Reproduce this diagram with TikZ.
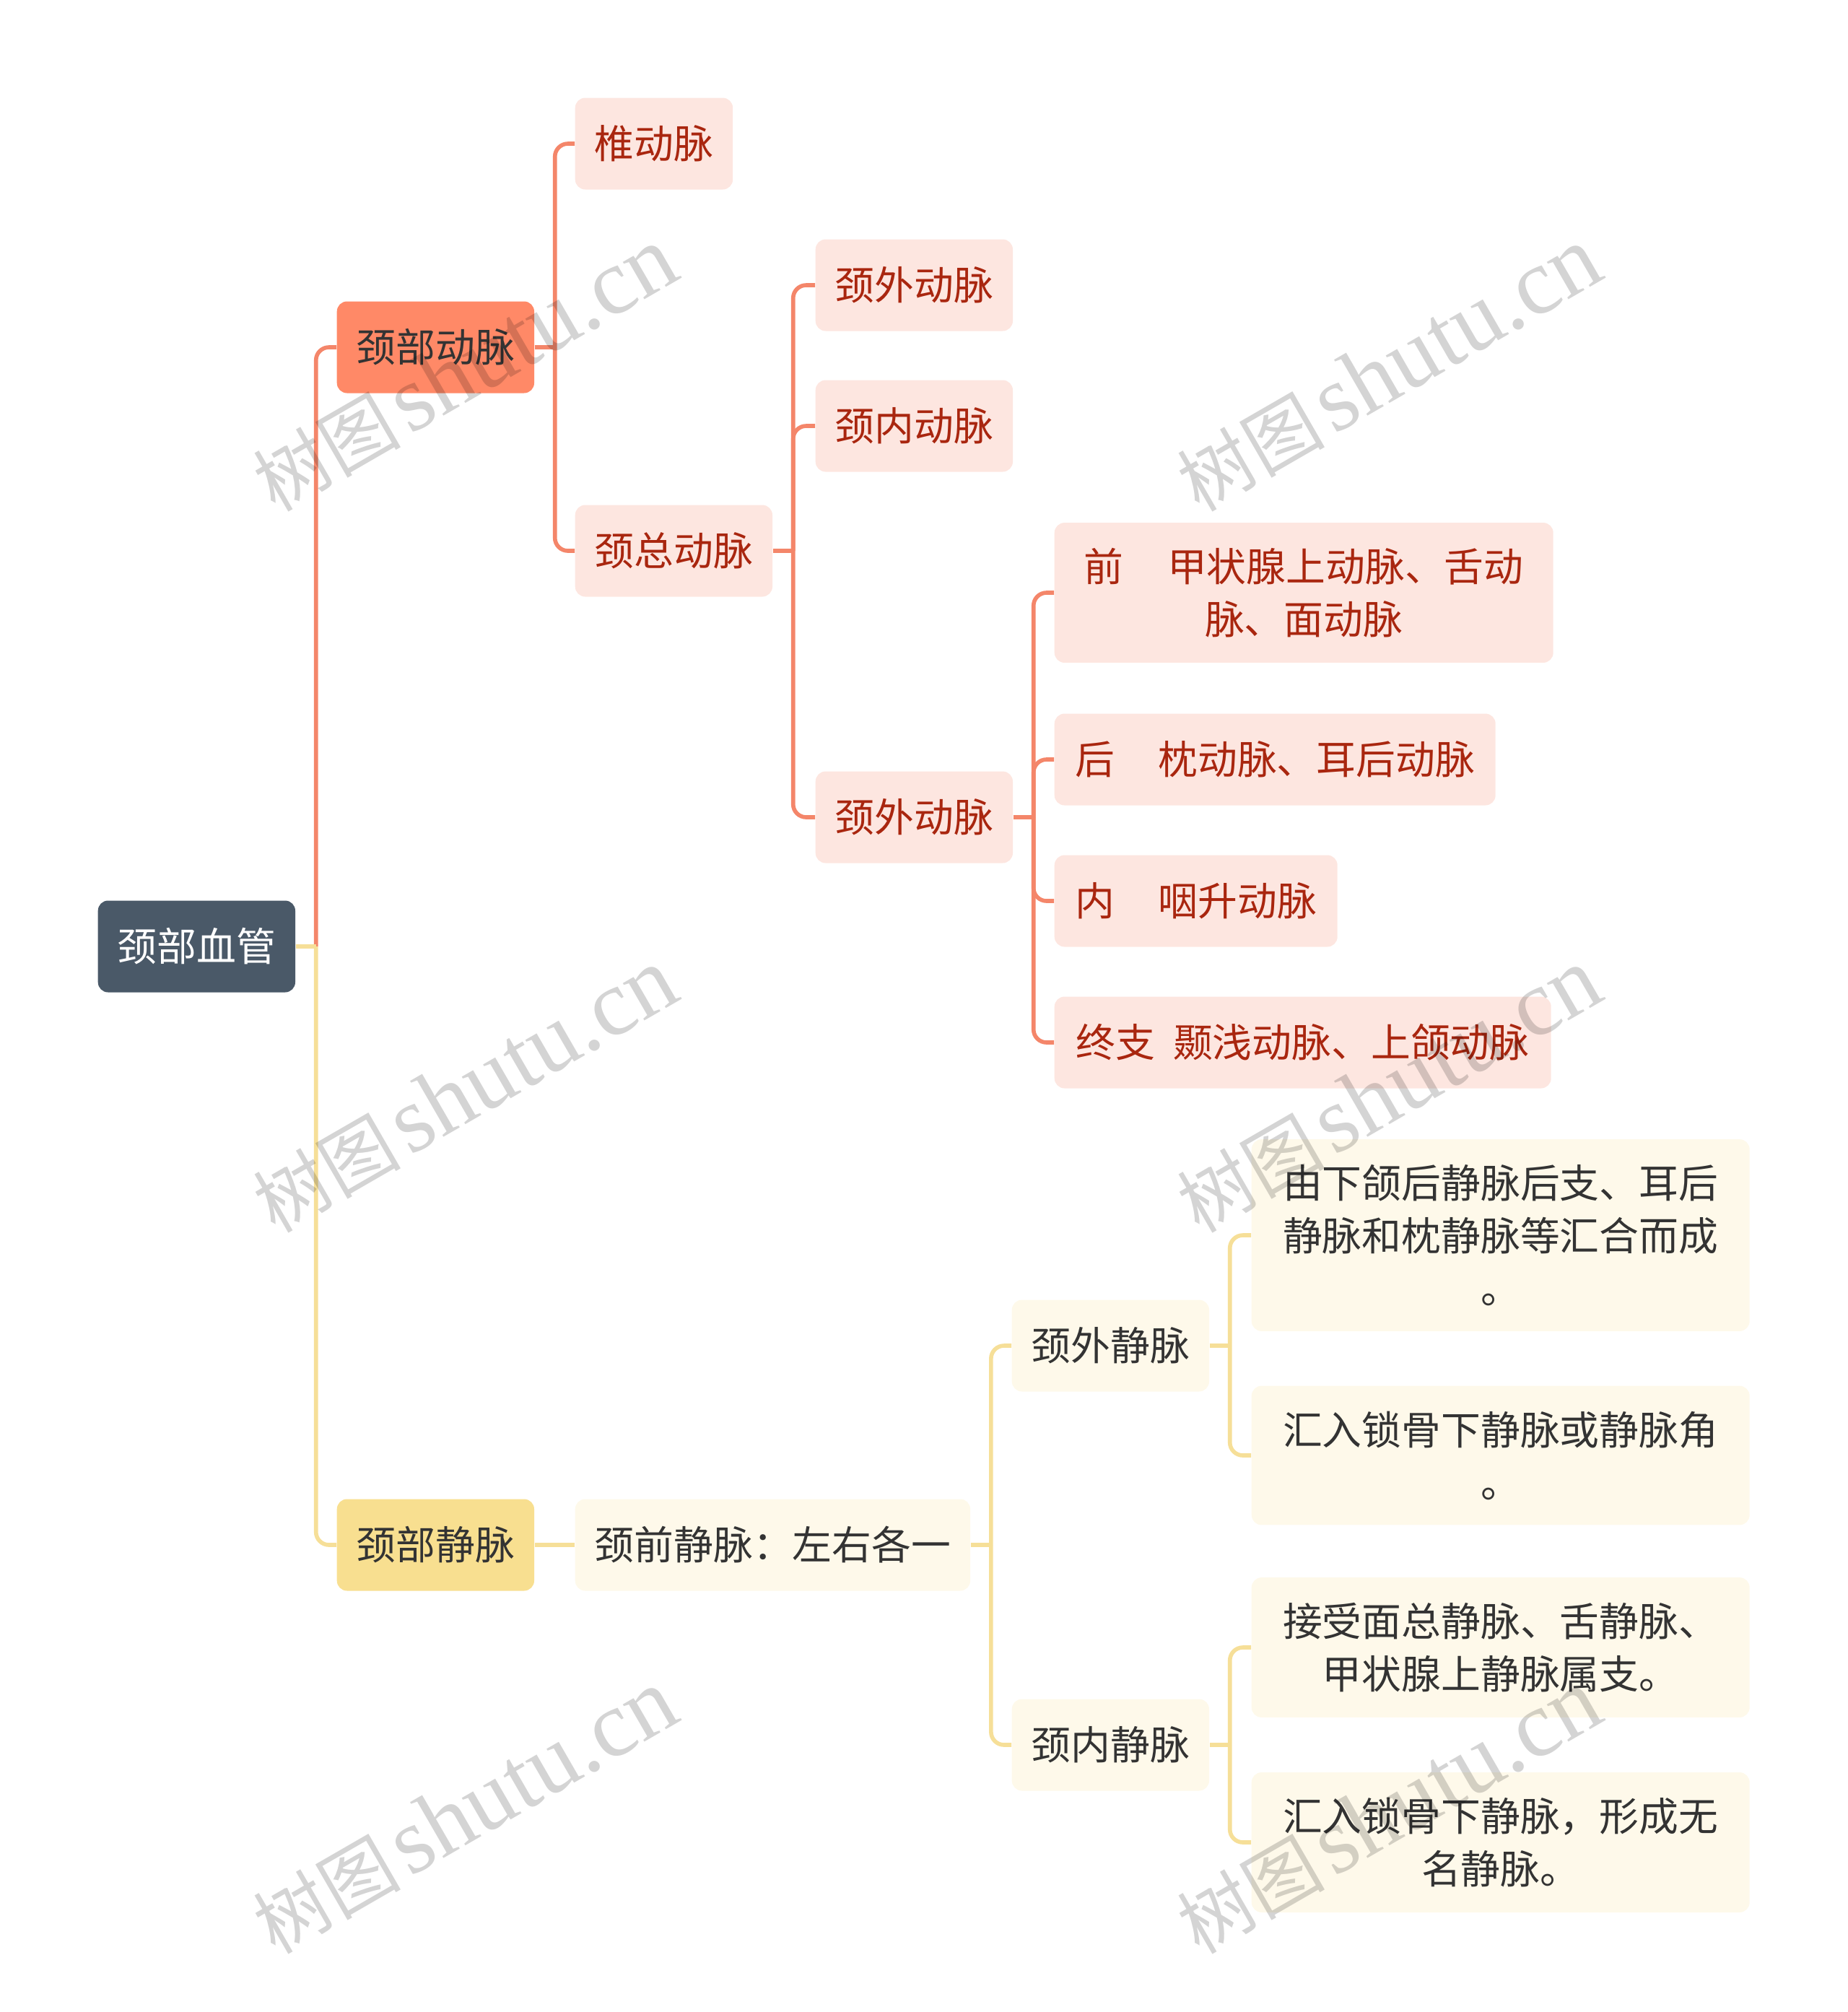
\documentclass[tikz,border=0pt]{standalone}
\usepackage{fontspec}
\newfontfamily\cjk{Noto Sans CJK SC}
\newfontfamily\wmlatin{Liberation Serif}
\usetikzlibrary{positioning}

\definecolor{rootfill}{HTML}{4A5968}
\definecolor{artfill}{HTML}{FF8967}
\definecolor{artedge}{HTML}{F4866A}
\definecolor{artlight}{HTML}{FDE6E0}
\definecolor{arttext}{HTML}{A9260F}
\definecolor{veinfill}{HTML}{F8DF90}
\definecolor{veinedge}{HTML}{F6DF98}
\definecolor{veinlight}{HTML}{FEF9EA}
\definecolor{darktext}{HTML}{333333}

\newcommand{\wmtext}{{\cjk\fontsize{29pt}{29pt}\selectfont 树图} {\wmlatin\fontsize{37pt}{37pt}\selectfont shutu.cn}}

\begin{document}
\begin{tikzpicture}[
		box/.style={rectangle, rounded corners=0.14cm, anchor=west, align=center,
			font=\cjk\fontsize{15.6pt}{20.8pt}\selectfont,
			inner xsep=0.27cm, inner ysep=0.35cm, minimum height=1.27cm},
		rootbox/.style={box, fill=rootfill, text=white},
		artmain/.style={box, fill=artfill, text=darktext},
		artsub/.style={box, fill=artlight, text=arttext},
		veinmain/.style={box, fill=veinfill, text=darktext},
		veinsub/.style={box, fill=veinlight, text=darktext},
		artline/.style={draw=artedge, line width=1.6pt, rounded corners=0.18cm},
		veinline/.style={draw=veinedge, line width=1.6pt, rounded corners=0.18cm},
		wmark/.style={rotate=30, text=black, text opacity=0.17, inner sep=0pt}]
		
		\useasboundingbox (0,0) rectangle (25.6,-27.87);
		
		% root and main branches
		\node[rootbox] (root) at (1.35,-13.11) {颈部血管};
		\node[artmain] (art) at (4.66,-4.81) {颈部动脉};
		\node[veinmain] (vein) at (4.66,-21.40) {颈部静脉};
		
		% arteries
		\node[artsub] (zhui) at (7.96,-1.99) {椎动脉};
		\node[artsub] (zong) at (7.96,-7.63) {颈总动脉};
		\node[artsub] (wai) at (11.29,-3.95) {颈外动脉};
		\node[artsub] (nei) at (11.29,-5.90) {颈内动脉};
		\node[artsub] (waib) at (11.29,-11.32) {颈外动脉};
		\node[artsub, minimum width=6.91cm] (qian) at (14.60,-8.21) {前\hspace{1.1em}甲状腺上动脉、舌动\\脉、面动脉};
		\node[artsub, minimum width=6.11cm] (hou) at (14.60,-10.52) {后\hspace{1.1em}枕动脉、耳后动脉};
		\node[artsub, minimum width=3.92cm] (neic) at (14.60,-12.48) {内\hspace{1.1em}咽升动脉};
		\node[artsub, minimum width=6.88cm] (zhong) at (14.60,-14.44) {终支\hspace{0.45em}颞浅动脉、上颌动脉};
		
		% veins
		\node[veinsub] (qjm) at (7.96,-21.40) {颈前静脉：左右各一};
		\node[veinsub] (wjm) at (14.01,-18.64) {颈外静脉};
		\node[veinsub] (njm) at (14.01,-24.17) {颈内静脉};
		\node[veinsub, minimum width=6.9cm] (wja) at (17.33,-17.11) {由下颌后静脉后支、耳后\\静脉和枕静脉等汇合而成\\。};
		\node[veinsub, minimum width=6.9cm] (wjb) at (17.33,-20.16) {汇入锁骨下静脉或静脉角\\。};
		\node[veinsub, minimum width=6.9cm] (nja) at (17.33,-22.82) {接受面总静脉、舌静脉、\\甲状腺上静脉属支。};
		\node[veinsub, minimum width=6.9cm] (njb) at (17.33,-25.52) {汇入锁骨下静脉，形成无\\名静脉。};
		
		% junctions
		\coordinate[right=0.28cm of root] (jroot);
		\coordinate[right=0.28cm of art] (jart);
		\coordinate[right=0.28cm of zong] (jzong);
		\coordinate[right=0.28cm of waib] (jwaib);
		\coordinate[right=0.28cm of qjm] (jqjm);
		\coordinate[right=0.28cm of wjm] (jwjm);
		\coordinate[right=0.28cm of njm] (jnjm);
		
		\draw[artline] (root) -- (jroot);
		\draw[artline] (jroot) |- (art);
		\draw[veinline] (root) -- (jroot);
		\draw[veinline] (jroot) |- (vein);
		
		\draw[artline] (art) -- (jart);
		\draw[artline] (jart) |- (zhui);
		\draw[artline] (jart) |- (zong);
		\draw[artline] (zong) -- (jzong);
		\draw[artline] (jzong) |- (wai);
		\draw[artline] (jzong) |- (nei);
		\draw[artline] (jzong) |- (waib);
		\draw[artline] (waib) -- (jwaib);
		\draw[artline] (jwaib) |- (qian);
		\draw[artline] (jwaib) |- (hou);
		\draw[artline] (jwaib) |- (neic);
		\draw[artline] (jwaib) |- (zhong);
		
		\draw[veinline] (vein) -- (qjm);
		\draw[veinline] (qjm) -- (jqjm);
		\draw[veinline] (jqjm) |- (wjm);
		\draw[veinline] (jqjm) |- (njm);
		\draw[veinline] (wjm) -- (jwjm);
		\draw[veinline] (jwjm) |- (wja);
		\draw[veinline] (jwjm) |- (wjb);
		\draw[veinline] (njm) -- (jnjm);
		\draw[veinline] (jnjm) |- (nja);
		\draw[veinline] (jnjm) |- (njb);
		
		% watermarks
		\node[wmark] (wm1) at (6.44,-5.12) {\wmtext};
		\node[wmark] (wm2) at (6.44,-15.11) {\wmtext};
		\node[wmark] (wm3) at (6.44,-25.10) {\wmtext};
		\node[wmark] (wm4) at (19.24,-5.12) {\wmtext};
		\node[wmark] (wm5) at (19.24,-15.11) {\wmtext};
		\node[wmark] (wm6) at (19.24,-25.10) {\wmtext};
	\end{tikzpicture}
\end{document}
